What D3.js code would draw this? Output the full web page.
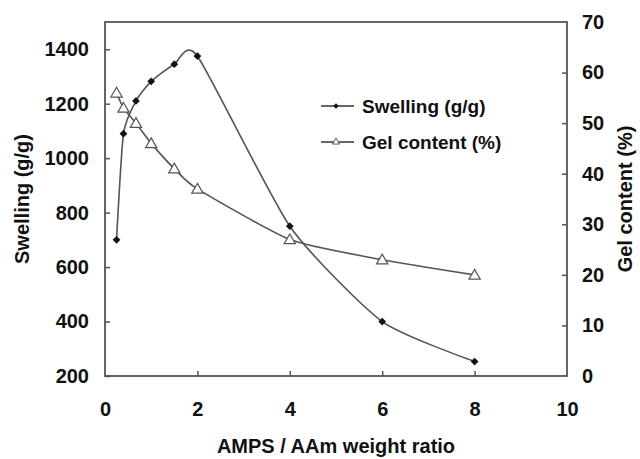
<!DOCTYPE html>
<html>
<head>
<meta charset="utf-8">
<script src="https://cdn.jsdelivr.net/npm/d3@7"></script>
<style>
  body { margin: 0; background: #fff; }
  text { font-family: "Liberation Sans", Arial, sans-serif; font-weight: bold; fill: #111; }
</style>
</head>
<body>
<svg id="chart" width="640" height="459"></svg>
<script>
const ratio = [0.25, 0.4, 0.67, 1, 1.5, 2, 4, 6, 8];
const swelling = [700, 1090, 1210, 1282, 1345, 1375, 750, 400, 253];
const gelContent = [56, 53, 50, 46, 41, 37, 27, 23, 20];
const xTicks = [0, 2, 4, 6, 8, 10];
const leftTicks = [200, 400, 600, 800, 1000, 1200, 1400];
const rightTicks = [0, 10, 20, 30, 40, 50, 60, 70];

const svg = d3.select("#chart");
const margin = { top: 22, right: 73, bottom: 83, left: 105 };
const width = +svg.attr("width") - margin.left - margin.right;
const height = +svg.attr("height") - margin.top - margin.bottom;
const g = svg.append("g").attr("transform", `translate(${margin.left},${margin.top})`);
const ink = "#555";

const x = d3.scaleLinear().domain([0, 10]).range([0, width]);
const yL = d3.scaleLinear().domain([200, 1500]).range([height, 0]);
const yR = d3.scaleLinear().domain([0, 70]).range([height, 0]);

// frame
g.append("rect").attr("width", width).attr("height", height)
    .attr("fill", "none").attr("stroke", ink).attr("stroke-width", 1.8);

function styleAxis(sel) {
    sel.select(".domain").remove();
    sel.selectAll(".tick line").attr("stroke", ink).attr("stroke-width", 1.5);
    sel.selectAll(".tick text").style("font-size", "20px");
}

g.append("g").attr("transform", `translate(0,${height})`)
    .call(d3.axisBottom(x).tickValues(xTicks).tickFormat(d3.format("d")).tickSizeInner(-5).tickPadding(26))
    .call(styleAxis)
    .call(s => s.selectAll(".tick").filter(d => d === 0 || d === 10).select("line").remove());

g.append("g")
    .call(d3.axisLeft(yL).tickValues(leftTicks).tickFormat(d3.format("d")).tickSizeInner(-5).tickPadding(16))
    .call(styleAxis);

g.append("g").attr("transform", `translate(${width},0)`)
    .call(d3.axisRight(yR).tickValues(rightTicks).tickFormat(d3.format("d")).tickSizeInner(-5).tickPadding(15))
    .call(styleAxis)
    .call(s => s.selectAll(".tick").filter(d => d === 0 || d === 70).select("line").remove());

// axis titles
svg.append("text").attr("x", margin.left + width / 2).attr("y", 453)
    .attr("text-anchor", "middle").style("font-size", "20px")
    .text("AMPS / AAm weight ratio");
svg.append("text").attr("transform", `translate(29,${margin.top + height / 2}) rotate(-90)`)
    .attr("text-anchor", "middle").style("font-size", "20px")
    .text("Swelling (g/g)");
svg.append("text").attr("transform", `translate(632,${margin.top + height / 2}) rotate(-90)`)
    .attr("text-anchor", "middle").style("font-size", "20px")
    .text("Gel content (%)");

const swellData = ratio.map((r, i) => ({ x: r, y: swelling[i] }));
const gelData = ratio.map((r, i) => ({ x: r, y: gelContent[i] }));

// excel-ish smoothing
const smooth = d3.curveCardinal.tension(0.4);
const lineL = d3.line().x(d => x(d.x)).y(d => yL(d.y)).curve(smooth);
const lineR = d3.line().x(d => x(d.x)).y(d => yR(d.y)).curve(smooth);

g.append("path").attr("d", lineR(gelData))
    .attr("fill", "none").attr("stroke", ink).attr("stroke-width", 1.6);
g.append("path").attr("d", lineL(swellData))
    .attr("fill", "none").attr("stroke", ink).attr("stroke-width", 1.6);

const diamond = d3.symbol(d3.symbolSquare, 30);
const triangle = d3.symbol(d3.symbolTriangle, 55);

g.selectAll(".gel").data(gelData).enter().append("path")
    .attr("class", "gel")
    .attr("d", triangle)
    .attr("transform", d => `translate(${x(d.x)},${yR(d.y) + 1})`)
    .attr("fill", "#fff").attr("stroke", ink).attr("stroke-width", 1.2);

g.selectAll(".swell").data(swellData).enter().append("path")
    .attr("class", "swell")
    .attr("d", diamond)
    .attr("transform", d => `translate(${x(d.x)},${yL(d.y)}) rotate(45)`)
    .attr("fill", "#111");

// legend
const legend = svg.append("g").attr("transform", "translate(321,106)");
const items = [
    { label: "Swelling (g/g)", sym: "diamond" },
    { label: "Gel content (%)", sym: "triangle" }
];
items.forEach((it, i) => {
    const row = legend.append("g").attr("transform", `translate(0,${i * 36})`);
    row.append("line").attr("x1", 0).attr("x2", 33)
        .attr("stroke", "#333").attr("stroke-width", 1.4);
    if (it.sym === "diamond") {
        row.append("path").attr("d", d3.symbol(d3.symbolSquare, 14))
            .attr("transform", "translate(15,0) rotate(45)").attr("fill", "#111");
    } else {
        row.append("path").attr("d", d3.symbol(d3.symbolTriangle, 22))
            .attr("transform", "translate(15,0)")
            .attr("fill", "#fff").attr("stroke", ink).attr("stroke-width", 1);
    }
    row.append("text").attr("x", 41).attr("y", 7).style("font-size", "19px").text(it.label);
});
</script>
</body>
</html>
